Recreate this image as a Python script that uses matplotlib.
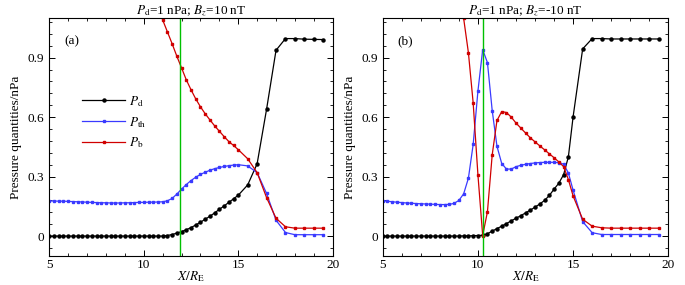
import numpy as np
import matplotlib
matplotlib.use("Agg")
import matplotlib.pyplot as plt
from matplotlib.ticker import MultipleLocator

plt.rcParams.update({
    "font.family": "Liberation Serif",
    "mathtext.fontset": "stix",
    "font.size": 9,
    "xtick.direction": "in",
    "ytick.direction": "in",
    "xtick.top": True,
    "ytick.right": True,
    "axes.linewidth": 0.8,
})

# ── Data ─────────────────────────────────────────────────────
X = [5.0, 5.25, 5.5, 5.75, 6.0, 6.25, 6.5, 6.75, 7.0, 7.25, 7.5, 7.75,
     8.0, 8.25, 8.5, 8.75, 9.0, 9.25, 9.5, 9.75, 10.0, 10.25, 10.5, 10.75,
     11.0, 11.25, 11.5, 11.75, 12.0, 12.25, 12.5, 12.75, 13.0, 13.25, 13.5,
     13.75, 14.0, 14.25, 14.5, 14.75, 15.0,
     15.5, 16.0, 16.5, 17.0, 17.5, 18.0, 18.5, 19.0, 19.5]

# panel (a): Bz = +10 nT
PD_A = [0.0] * 25 + [
    0.003, 0.008, 0.015, 0.023, 0.032, 0.043, 0.056, 0.070, 0.085, 0.100,
    0.117, 0.135, 0.152, 0.170, 0.188, 0.206,
    0.258, 0.365, 0.640, 0.937, 0.996, 0.996, 0.993, 0.992, 0.991]
PTH_A = [
    0.177, 0.177, 0.176, 0.176, 0.175, 0.174, 0.173, 0.172, 0.171, 0.170,
    0.169, 0.168, 0.168, 0.167, 0.167, 0.167, 0.168, 0.168, 0.169, 0.170,
    0.170, 0.171, 0.171, 0.172, 0.173,
    0.178, 0.190, 0.212, 0.237, 0.260, 0.280, 0.297, 0.311, 0.322, 0.332,
    0.340, 0.346, 0.351, 0.355, 0.358, 0.360,
    0.354, 0.320, 0.215, 0.080, 0.018, 0.007, 0.007, 0.007, 0.007]
PB_A = [
    1.160, 1.090, 1.030, 0.970, 0.907, 0.848, 0.788, 0.738, 0.692, 0.652,
    0.617, 0.586, 0.556, 0.529, 0.502, 0.477, 0.457, 0.436,
    0.390, 0.320, 0.194, 0.090, 0.047, 0.040, 0.040, 0.040, 0.040]
X_PB_A = X[23:]
MP_A = 11.9

# panel (b): Bz = -10 nT
PD_B = [0.0] * 17 + [0.001, 0.001, 0.002, 0.003] + [
    0.004, 0.012, 0.025, 0.038, 0.050, 0.063, 0.077, 0.090, 0.103, 0.117,
    0.131, 0.146, 0.162, 0.180, 0.205, 0.237, 0.267, 0.310, 0.400, 0.603,
    0.944, 0.996, 0.996, 0.994, 0.994, 0.994, 0.994, 0.994, 0.994]
PTH_B = [
    0.178, 0.176, 0.173, 0.171, 0.169, 0.167, 0.166, 0.164, 0.163, 0.162,
    0.161, 0.160, 0.159, 0.159, 0.160,
    0.165, 0.180, 0.213, 0.292, 0.462, 0.731, 0.940, 0.875, 0.633, 0.453,
    0.366, 0.338, 0.338, 0.350, 0.357, 0.362, 0.366, 0.369, 0.371, 0.372,
    0.372, 0.372, 0.370, 0.363, 0.318, 0.231,
    0.073, 0.017, 0.008, 0.008, 0.008, 0.008, 0.008, 0.008, 0.008]
PB_B = [
    1.250, 1.098, 0.925, 0.672, 0.309, 0.003, 0.123, 0.410, 0.583, 0.628,
    0.623, 0.600, 0.570, 0.545, 0.520, 0.496, 0.475, 0.455, 0.435, 0.415,
    0.395, 0.374, 0.350, 0.285, 0.202,
    0.085, 0.050, 0.042, 0.040, 0.040, 0.040, 0.040, 0.040, 0.040]
X_PB_B = X[16:]
MP_B = 10.25

BLACK = "#000000"
BLUE = "#3a3aff"
RED = "#d00000"
GREEN = "#00c000"


def draw_panel(ax, pd_, pth, x_pb, pb, mp, tag, title, legend=False):
    ax.plot(X, pd_, color=BLACK, lw=0.9, marker="o", ms=2.2, label=r"$P_{\rm d}$")
    ax.plot(X, pth, color=BLUE, lw=0.9, marker="s", ms=1.9, label=r"$P_{\rm th}$")
    ax.plot(x_pb, pb, color=RED, lw=0.9, marker="s", ms=1.9, label=r"$P_{\rm b}$")
    ax.axvline(mp, color=GREEN, lw=1.0)

    ax.set_xlim(5, 20)
    ax.set_ylim(-0.1, 1.1)
    ax.xaxis.set_major_locator(MultipleLocator(5))
    ax.xaxis.set_minor_locator(MultipleLocator(1))
    ax.yaxis.set_major_locator(MultipleLocator(0.3))
    ax.yaxis.set_minor_locator(MultipleLocator(0.06))
    ax.set_yticks([0, 0.3, 0.6, 0.9])
    ax.set_yticklabels(["0", "0.3", "0.6", "0.9"])
    ax.tick_params(which="major", length=4, width=0.7, labelsize=9.5)
    ax.tick_params(axis="x", which="major", pad=2)
    ax.tick_params(which="minor", length=2, width=0.6)

    ax.set_xlabel(r"$X/R_{\rm E}$", fontsize=9.5, labelpad=-1)
    ax.set_ylabel("Pressure quantities/nPa", fontsize=9.5, labelpad=4)
    ax.set_title(title, fontsize=9.5, pad=3)
    ax.text(0.08, 0.9, tag, transform=ax.transAxes, fontsize=9.5,
            ha="center", va="center")

    if legend:
        ax.legend(loc="upper left", bbox_to_anchor=(0.075, 0.73), frameon=False,
                  handlelength=3.2, handletextpad=0.3, labelspacing=0.45,
                  fontsize=9.5)


fig = plt.figure(figsize=(6.85, 2.85), dpi=100)
ax1 = fig.add_axes([0.072, 0.102, 0.4137, 0.835])
ax2 = fig.add_axes([0.5587, 0.102, 0.417, 0.835])

draw_panel(ax1, PD_A, PTH_A, X_PB_A, PB_A, MP_A, "(a)",
           r"$P_{\rm d}$=1 nPa; $B_z$=10 nT", legend=True)
draw_panel(ax2, PD_B, PTH_B, X_PB_B, PB_B, MP_B, "(b)",
           r"$P_{\rm d}$=1 nPa; $B_z$=-10 nT")

fig.savefig("out.png", dpi=100)
